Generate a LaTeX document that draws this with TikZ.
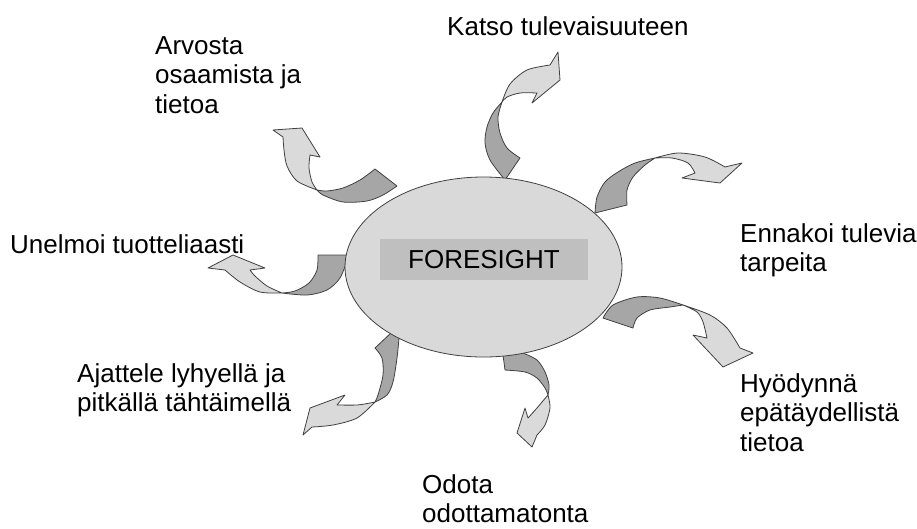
\documentclass[tikz,border=0pt]{standalone}
\usepackage{fontspec}
\setmainfont{Liberation Sans}
\usetikzlibrary{shapes.geometric}
\definecolor{edgegray}{HTML}{404040}
\definecolor{backgray}{HTML}{A6A6A6}
\definecolor{frontgray}{HTML}{DADADA}
\definecolor{coregray}{HTML}{D9D9D9}
\definecolor{bargray}{HTML}{BFBFBF}
\begin{document}
\begin{tikzpicture}[x=1pt, y=-1pt, font=\fontsize{26}{29.5}\selectfont,
    twistback/.style={draw=edgegray, fill=backgray, line width=0.8pt, line join=round},
    twistfront/.style={draw=edgegray, fill=frontgray, line width=0.8pt, line join=round},
    goal/.style={anchor=base west, inner sep=0pt, align=left}]
  \useasboundingbox (0,0) rectangle (917,528);
  \draw[twistback] plot[smooth] coordinates {(505,180) (490,160) (485,143) (487,127) (493,113) (502,102)}
    -- plot[smooth] coordinates {(502,102) (498,117) (500,133) (507,148) (520,158)} -- cycle;
  \draw[twistfront] plot[smooth] coordinates {(502,102) (510,84) (527,70) (550,65)} -- (558,52) -- (560,80) -- (532,103) -- (537,93)
    -- plot[smooth] coordinates {(537,93) (520,93) (507,97) (502,102)} -- cycle;
  \draw[twistback] plot[smooth] coordinates {(375,169) (360,180) (343,188) (327,191) (317,190)}
    -- plot[smooth] coordinates {(317,190) (323,195) (343,202) (367,201) (383,195) (397,186)} -- cycle;
  \draw[twistfront] plot[smooth] coordinates {(317,190) (297,181) (287,166) (284,150) (283,137)} -- (273,130) -- (302,128) -- (320,157) -- (310,155)
    -- plot[smooth] coordinates {(310,155) (309,168) (312,182) (317,190)} -- cycle;
  \draw[twistback] plot[smooth] coordinates {(595,213) (597,197) (605,182) (618,172) (635,163) (655,158)}
    -- plot[smooth] coordinates {(655,158) (645,165) (633,177) (627,190) (627,205)} -- cycle;
  \draw[twistfront] plot[smooth] coordinates {(655,158) (678,153) (705,157) (725,167)} -- (742,163) -- (720,183) -- (682,178) -- (695,173)
    -- plot[smooth] coordinates {(695,173) (688,163) (672,158) (655,158)} -- cycle;
  \draw[twistback] plot[smooth] coordinates {(318,255) (317,270) (309,283) (295,291) (282,293)}
    -- plot[smooth] coordinates {(282,293) (307,295) (327,290) (340,278) (348,258)} -- (348,255) -- cycle;
  \draw[twistfront] plot[smooth] coordinates {(282,293) (260,292) (240,282) (225,270)} -- (208,268) -- (233,255) -- (265,268) -- (250,270)
    -- plot[smooth] coordinates {(250,270) (255,276) (267,286) (282,293)} -- cycle;
  \draw[twistback] plot[smooth] coordinates {(603,318) (613,305) (637,297) (660,298) (683,305)}
    -- plot[smooth] coordinates {(683,305) (670,307) (650,310) (637,318) (633,328)} -- cycle;
  \draw[twistfront] plot[smooth] coordinates {(683,305) (710,315) (727,328) (740,348)} -- (753,353) -- (723,367) -- (693,335) -- (707,338)
    -- plot[smooth] coordinates {(707,338) (703,322) (697,312) (683,305)} -- cycle;
  \draw[twistback] plot[smooth] coordinates {(375,348) (382,358) (383,375) (378,395) (375,402)}
    -- plot[smooth] coordinates {(375,402) (387,395) (393,382) (397,358) (399,338)} -- (392,332) -- cycle;
  \draw[twistfront] plot[smooth] coordinates {(375,402) (357,418) (333,425) (312,427)} -- (303,435) -- (310,408) -- (345,395) -- (337,405)
    -- plot[smooth] coordinates {(337,405) (357,405) (370,403) (375,402)} -- cycle;
  \draw[twistback] (503,355) -- plot[smooth] coordinates {(505,370) (525,372) (537,378) (545,388) (548,395)}
    -- plot[smooth] coordinates {(548,395) (549,385) (545,372) (537,360) (523,353)} -- cycle;
  \draw[twistfront] plot[smooth] coordinates {(548,395) (550,408) (545,425) (537,435)} -- (532,447) -- (517,433) -- (525,408) -- (528,418)
    -- plot[smooth] coordinates {(528,418) (537,408) (542,402) (548,395)} -- cycle;
  \node[ellipse, draw=edgegray, fill=coregray, line width=0.8pt, minimum width=277pt, minimum height=180pt, inner sep=0pt] (core) at (483.5,267) {};
  \node[fill=bargray, minimum width=208pt, minimum height=41pt, inner sep=0pt] (title) at (484,259.5) {FORESIGHT};
  \node[goal] (katso) at (447,35) {Katso tulevaisuuteen};
  \node[goal] (arvosta) at (155,113) {Arvosta\\osaamista ja\\tietoa};
  \node[goal] (unelmoi) at (10,253) {Unelmoi tuotteliaasti};
  \node[goal] (ennakoi) at (740,271.5) {Ennakoi tulevia\\tarpeita};
  \node[goal] (ajattele) at (77,411.5) {Ajattele lyhyellä ja\\pitkällä tähtäimellä};
  \node[goal] (hyodynna) at (740,451) {Hyödynnä\\epätäydellistä\\tietoa};
  \node[goal] (odota) at (422,522.5) {Odota\\odottamatonta};
\end{tikzpicture}
\end{document}
